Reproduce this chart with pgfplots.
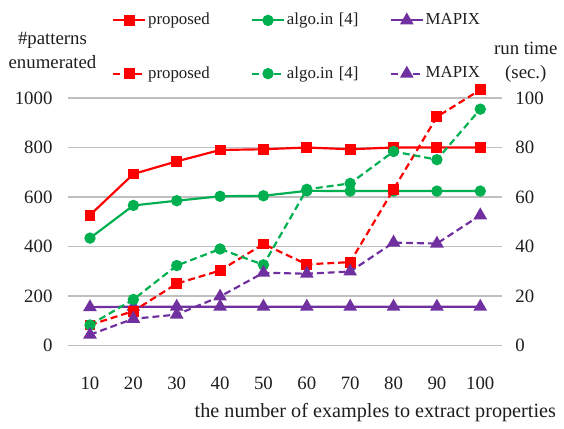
\documentclass[border=0pt]{standalone}
\usepackage{fontspec}
\setmainfont{Liberation Serif}
\usepackage{pgfplots}
\pgfplotsset{compat=1.18}
\definecolor{cRed}{RGB}{255,0,0}
\definecolor{cGreen}{RGB}{0,176,80}
\definecolor{cPurple}{RGB}{112,48,160}
\definecolor{cGrid}{RGB}{191,191,191}
\definecolor{cText}{RGB}{30,30,30}

\pgfplotsset{
  base/.style={scale only axis, width=219pt, height=125pt, xmin=5, xmax=105,
    clip=false, axis line style={draw=none}, major tick length=0pt,
    tick style={draw=none}, /pgf/number format/assume math mode=true,
    /pgf/number format/1000 sep={},
    tick label style={font=\fontsize{9.5}{11}\selectfont, text=cText}},
  sol/.style={line width=1.1pt},
  das/.style={line width=1.1pt, dash pattern=on 3.5pt off 2pt},
  mk/.style={mark options={solid}},
  legend image code/.code={\draw[mark repeat=2,mark phase=2,#1] plot coordinates {(0pt,0pt) (8pt,0pt) (16pt,0pt)};},
}

\begin{document}
\begin{tikzpicture}
\begin{axis}[base, ymin=0, ymax=1000, ytick={0,200,400,600,800,1000},
  xtick={10,20,30,40,50,60,70,80,90,100},
  ymajorgrids, grid style={cGrid, line width=0.6pt},
  yticklabel style={xshift=-4.5pt}, xticklabel style={yshift=-12.5pt}]
\addplot[sol, cRed, mark=square*, mark size=2.2pt] coordinates {(10,527) (20,693) (30,744) (40,790) (50,793) (60,800) (70,793) (80,800) (90,800) (100,800)};
\addplot[sol, cGreen, mark=*, mark size=2.3pt] coordinates {(10,434) (20,566) (30,585) (40,603) (50,605) (60,625) (70,624) (80,624) (90,624) (100,624)};
\addplot[sol, cPurple, mark=triangle*, mark size=2.9pt] coordinates {(10,155) (20,157) (30,157) (40,157) (50,157) (60,157) (70,157) (80,157) (90,157) (100,157)};
\node[font=\fontsize{10.2}{12}\selectfont, text=cText] at (rel axis cs:0.708,0) [yshift=-34pt] {the number of examples to extract properties};
\node[font=\fontsize{9.5}{12}\selectfont, text=cText, align=center] at (rel axis cs:-0.0365,1) [yshift=24pt] {\#patterns\\enumerated};
\node[font=\fontsize{9.5}{12}\selectfont, text=cText, align=center] at (rel axis cs:1.055,1) [yshift=18pt] {run time\\(sec.)};
\end{axis}
\begin{axis}[base, axis x line=none, axis y line*=right, ymin=0, ymax=100,
  ytick={0,20,40,60,80,100}, yticklabel style={anchor=west, xshift=3.3pt},
  legend columns=3, legend cell align=left,
  legend style={draw=none, fill=none, at={(axis description cs:0.1005,1.206)}, anchor=west,
    inner sep=0pt, row sep=15.5pt, font=\fontsize{8.5}{10}\selectfont, text=cText,
    nodes={inner xsep=1pt, text width=51pt, align=left}}]
\addlegendimage{sol, cRed, mark=square*, mark size=2.2pt}
\addlegendentry{proposed}
\addlegendimage{sol, cGreen, mark=*, mark size=2.3pt}
\addlegendentry{algo.in [4]}
\addlegendimage{sol, cPurple, mark=triangle*, mark size=2.9pt}
\addlegendentry{MAPIX}
\addplot[das, mk, cRed, mark=square*, mark size=2.2pt] coordinates {(10,8.3) (20,13.9) (30,25.0) (40,30.3) (50,41.0) (60,32.8) (70,33.7) (80,63.1) (90,92.4) (100,103.3)};
\addlegendentry{proposed}
\addplot[das, mk, cGreen, mark=*, mark size=2.3pt] coordinates {(10,8.3) (20,18.6) (30,32.3) (40,39.0) (50,32.6) (60,63.1) (70,65.5) (80,78.4) (90,75.1) (100,95.5)};
\addlegendentry{algo.in [4]}
\addplot[das, mk, cPurple, mark=triangle*, mark size=2.9pt] coordinates {(10,4.4) (20,10.8) (30,12.5) (40,19.8) (50,29.4) (60,29.0) (70,29.9) (80,41.6) (90,41.2) (100,52.6)};
\addlegendentry{MAPIX}
\end{axis}
\path (-34.5pt,-36pt) rectangle (247.5pt,174.5pt);
\end{tikzpicture}
\end{document}
